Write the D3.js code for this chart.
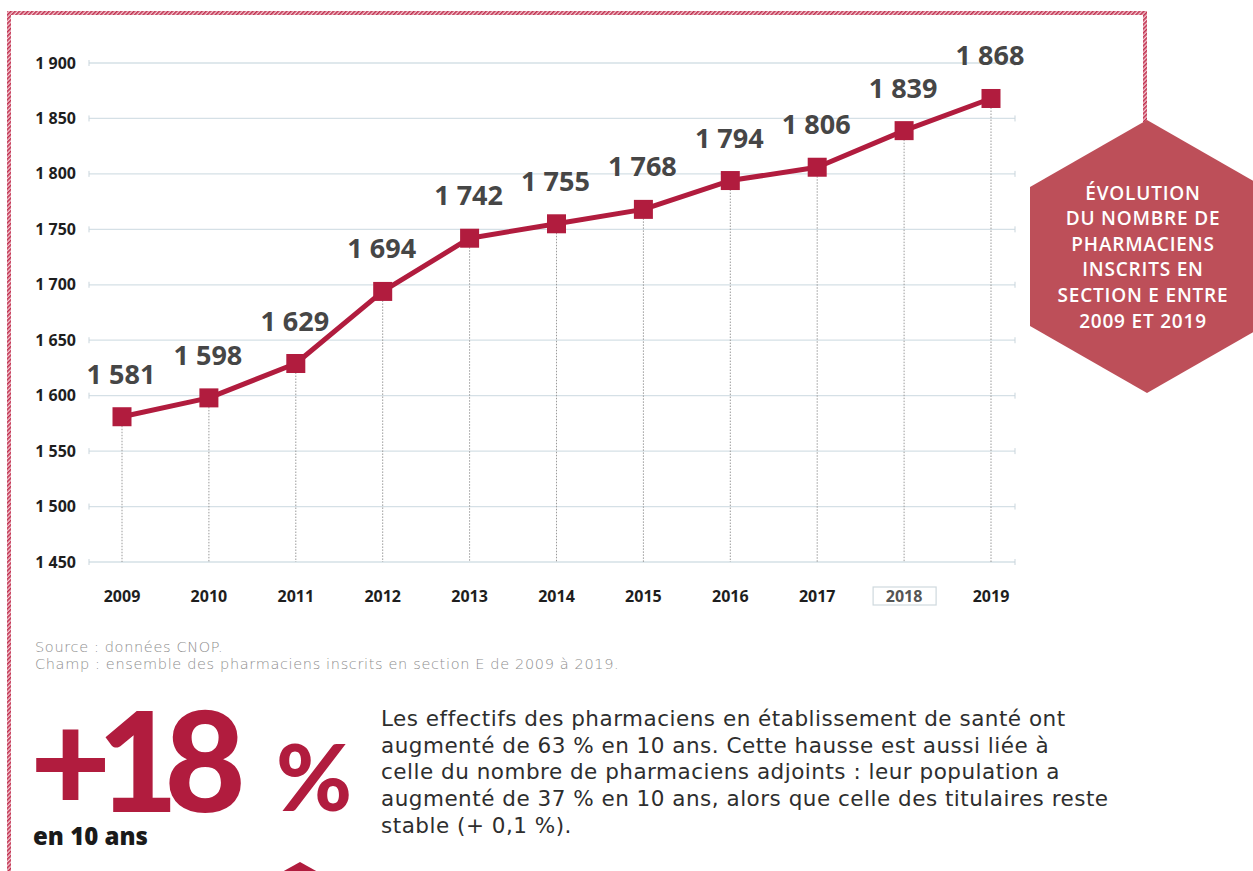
<!DOCTYPE html>
<html>
<head>
<meta charset="utf-8">
<script src="https://cdn.jsdelivr.net/npm/d3@7"></script>
<style>
  body { margin: 0; background: #fff; }
  svg { display: block; }
</style>
</head>
<body>
<div id="chart"></div>
<script>
// data
const years = ["2009", "2010", "2011", "2012", "2013", "2014", "2015", "2016", "2017", "2018", "2019"];
const values = [1581, 1598, 1629, 1694, 1742, 1755, 1768, 1794, 1806, 1839, 1868];
const yTicks = [1450, 1500, 1550, 1600, 1650, 1700, 1750, 1800, 1850, 1900];
const hexLines = ["ÉVOLUTION", "DU NOMBRE DE", "PHARMACIENS", "INSCRITS EN", "SECTION E ENTRE", "2009 ET 2019"];
const noteLines = ["Source : données CNOP.", "Champ : ensemble des pharmaciens inscrits en section E de 2009 à 2019."];
const bodyLines = [
  "Les effectifs des pharmaciens en établissement de santé ont",
  "augmenté de 63 % en 10 ans. Cette hausse est aussi liée à",
  "celle du nombre de pharmaciens adjoints : leur population a",
  "augmenté de 37 % en 10 ans, alors que celle des titulaires reste",
  "stable (+ 0,1 %)."
];

const W = 1253, H = 871;
const red = "#b11c3e";
const fr = d3.formatLocale({decimal: ",", thousands: " ", grouping: [3], currency: ["", " €"]});
const fmt = fr.format(",d");

const svg = d3.select("#chart").append("svg").attr("width", W).attr("height", H);

// hatched border pattern
const defs = svg.append("defs");
const pat = defs.append("pattern").attr("id", "hatch").attr("patternUnits", "userSpaceOnUse")
  .attr("width", 3).attr("height", 3).attr("patternTransform", "rotate(45)");
pat.append("rect").attr("width", 3).attr("height", 3).attr("fill", "#f3c9d2");
pat.append("rect").attr("width", 1.6).attr("height", 3).attr("fill", "#c0304f");

svg.append("path")
  .attr("d", "M9,871 L9,13 L1145,13 L1145,122")
  .attr("fill", "none").attr("stroke", "url(#hatch)").attr("stroke-width", 4);

// scales
const x = d3.scalePoint().domain(years).range([122, 991]);
const y = d3.scaleLinear().domain([1450, 1900]).range([562, 63]);
const gx0 = 89, gx1 = 1015;

// horizontal grid
const grid = svg.append("g");
grid.selectAll("line.h").data(yTicks).enter().append("line")
  .attr("x1", gx0).attr("x2", gx1)
  .attr("y1", d => y(d)).attr("y2", d => y(d))
  .attr("stroke", "#d5e0e6").attr("stroke-width", 1.3);
grid.selectAll("line.tl").data(yTicks).enter().append("line")
  .attr("x1", gx0).attr("x2", gx0).attr("y1", d => y(d) - 3).attr("y2", d => y(d) + 3)
  .attr("stroke", "#c9d5dc");
grid.selectAll("line.tr").data(yTicks).enter().append("line")
  .attr("x1", gx1).attr("x2", gx1).attr("y1", d => y(d) - 3).attr("y2", d => y(d) + 3)
  .attr("stroke", "#c9d5dc");

// vertical dotted lines
svg.append("g").selectAll("line").data(years).enter().append("line")
  .attr("x1", d => x(d)).attr("x2", d => x(d))
  .attr("y1", (d, i) => y(values[i])).attr("y2", y(1450))
  .attr("stroke", "#9a9a9a").attr("stroke-width", 1).attr("stroke-dasharray", "1.5,1.5");

// y labels
svg.append("g").selectAll("text").data(yTicks).enter().append("text")
  .attr("x", 76).attr("y", d => y(d)).attr("dy", "0.35em")
  .attr("text-anchor", "end")
  .style("font-family", "'Open Sans', sans-serif").style("font-weight", 700).style("font-size", "16px")
  .attr("fill", "#1e1e1e").text(d => fmt(d));

// x labels
svg.append("rect").attr("x", x("2018") - 31).attr("y", 587).attr("width", 63).attr("height", 18)
  .attr("fill", "none").attr("stroke", "#cfd9de").attr("stroke-width", 1.2);
svg.append("g").selectAll("text").data(years).enter().append("text")
  .attr("x", d => x(d)).attr("y", 596).attr("dy", "0.35em").attr("text-anchor", "middle")
  .style("font-family", "'Open Sans', sans-serif").style("font-weight", 700).style("font-size", "16px")
  .attr("fill", d => d === "2018" ? "#555" : "#1e1e1e").text(d => d);

// line
const line = d3.line().x((d, i) => x(years[i])).y(d => y(d));
svg.append("path").datum(values).attr("d", line)
  .attr("fill", "none").attr("stroke", red).attr("stroke-width", 5).attr("stroke-linejoin", "round");

svg.append("g").selectAll("rect").data(values).enter().append("rect")
  .attr("x", (d, i) => x(years[i]) - 9.5).attr("y", d => y(d) - 9.5)
  .attr("width", 19).attr("height", 19).attr("fill", red);

// value labels
svg.append("g").selectAll("text").data(values).enter().append("text")
  .attr("x", (d, i) => x(years[i]) - 1).attr("y", d => y(d) - 33)
  .attr("text-anchor", "middle")
  .style("font-family", "'Open Sans', sans-serif").style("font-weight", 700).style("font-size", "27px")
  .attr("fill", "#464646").text(d => fmt(d));

// hexagon
const hx = 1147;
svg.append("path")
  .attr("d", `M${hx},120 L${hx + 117},187 L${hx + 117},326 L${hx},393 L${hx - 117},326 L${hx - 117},187 Z`)
  .attr("fill", "#bd4f59");
svg.append("g").selectAll("text").data(hexLines).enter().append("text")
  .attr("x", 1143).attr("y", (d, i) => 193 + i * 25.6).attr("dy", "0.35em")
  .attr("text-anchor", "middle")
  .style("font-family", "'Open Sans', sans-serif").style("font-weight", 600).style("font-size", "19px")
  .style("letter-spacing", "0.8px")
  .attr("fill", "#fff").text(d => d);

// notes
svg.append("g").selectAll("text").data(noteLines).enter().append("text")
  .attr("x", 35).attr("y", (d, i) => 652 + i * 17)
  .style("font-family", "'DejaVu Sans', sans-serif").style("font-weight", 200).style("font-size", "14.5px")
  .style("letter-spacing", "0.65px")
  .attr("fill", "#8e8e8e").text(d => d);

// big figure
svg.append("text").attr("x", 30).attr("y", 812)
  .style("font-family", "'Lato', sans-serif").style("font-weight", 900).style("font-size", "140px")
  .style("letter-spacing", "-14px")
  .attr("fill", red).text("+18");
svg.append("text").attr("x", 276).attr("y", 811)
  .style("font-family", "'Lato', sans-serif").style("font-weight", 900).style("font-size", "92px")
  .attr("fill", red).text("%");
svg.append("text").attr("x", 33).attr("y", 845)
  .style("font-family", "'Open Sans', sans-serif").style("font-weight", 800).style("font-size", "24px")
  .attr("fill", "#1a1a1a").text("en 10 ans");

// body text
svg.append("g").selectAll("text").data(bodyLines).enter().append("text")
  .attr("x", 381).attr("y", (d, i) => 726 + i * 26.7)
  .style("font-family", "'DejaVu Sans', sans-serif").style("font-weight", 400).style("font-size", "21.5px")
  .style("letter-spacing", "0.5px")
  .attr("fill", "#2e2e2e").text(d => d);

// small hexagon peeking at bottom
svg.append("path")
  .attr("d", "M300,862 L318,872 L282,872 Z").attr("fill", red);
</script>
</body>
</html>
